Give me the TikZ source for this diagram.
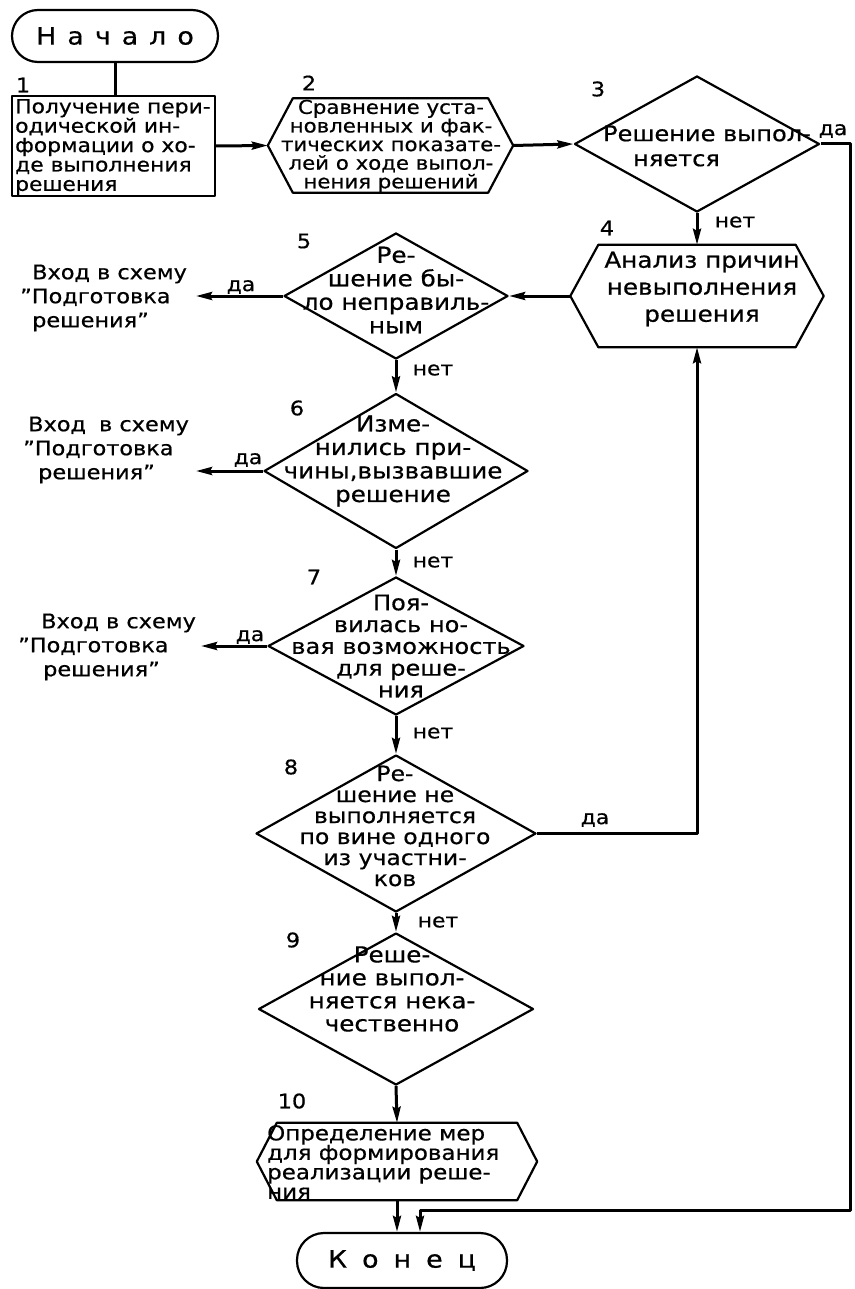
\documentclass[tikz,border=0pt]{standalone}
\usepackage{fontspec}
\setmainfont{DejaVu Sans}[FakeBold=0.6,FakeStretch=1.12]
\usetikzlibrary{arrows.meta,shapes.geometric}

% outline of a hexagonal block drawn round an invisible rectangle node
\newcommand\hexoutline[2]{%
  \draw[shp] ([xshift=#2]#1.north west) -- ([xshift=-#2]#1.north east) -- (#1.east)
    -- ([xshift=-#2]#1.south east) -- ([xshift=#2]#1.south west) -- (#1.west) -- cycle;}
\newcommand\fsz[2]{\fontsize{#1}{#2}\selectfont}

\begin{document}
\begin{tikzpicture}[x=1pt,y=-1pt,line join=round,
  shp/.style={draw,line width=2.2pt},
  conn/.style={line width=3pt},
  arr/.style={conn,-{Stealth[length=16pt,width=8pt,inset=2pt]}},
  dia/.style={shp,diamond,inner sep=0pt},
  hexbox/.style={rectangle,inner sep=0pt},
  term/.style={shp,rectangle,inner sep=0pt},
  txt/.style={inner sep=0pt,align=center},
  num/.style={inner sep=0pt,font=\fsz{20}{20}},
  yn/.style={inner sep=0pt,font=\fsz{19.5}{19.5}},
  entry/.style={inner sep=0pt,align=left,anchor=west,font=\fsz{20}{24}}]

\useasboundingbox (0,0) rectangle (854,1289);

% ---------- terminators ----------
\node[term,rounded corners=26pt,minimum width=206pt,minimum height=52pt] (start) at (115,36)
  {\fsz{24}{24}Н\hspace{11pt}а\hspace{11pt}ч\hspace{11pt}а\hspace{11pt}л\hspace{11pt}о};
\node[term,rounded corners=27pt,minimum width=210pt,minimum height=55pt] (end) at (402,1260.5)
  {\fsz{24}{24}К\hspace{15pt}о\hspace{15pt}н\hspace{15pt}е\hspace{15pt}ц};

% ---------- block 1 ----------
\node[shp,rectangle,inner sep=0pt,minimum width=203pt,minimum height=100pt] (b1) at (113.5,146) {};
\node[txt,align=left,anchor=west,font=\fsz{19.5}{19.4}] (t1) at (15,147)
  {Получение пери-\\одической ин-\\формации о хо-\\де выполнения\\решения};

% ---------- block 2 ----------
\node[hexbox,minimum width=245pt,minimum height=94pt] (h2) at (390.5,145.5) {};
\hexoutline{h2}{25pt}
\node[txt,font=\fsz{19}{18.6}] (t2) at (391,146)
  {Сравнение уста-\\новленных и фак-\\тических показате-\\лей о ходе выпол-\\нения решений};

% ---------- block 3 ----------
\node[dia,minimum width=245pt,minimum height=136pt] (d3) at (697,144) {};
\node[txt,align=left,font=\fsz{21.5}{25}] (t3) at (707,146)
  {Решение выпол-\\\hspace*{30pt}няется};

% ---------- block 4 ----------
\node[hexbox,minimum width=253pt,minimum height=102pt] (h4) at (697,296) {};
\hexoutline{h4}{28pt}
\node[txt,font=\fsz{22}{27}] (t4) at (702,289)
  {Анализ причин\\невыполнения\\решения};

% ---------- block 5 ----------
\node[dia,minimum width=224pt,minimum height=126pt] (d5) at (396,296) {};
\node[txt,font=\fsz{22}{23.5}] (t5) at (396,290)
  {Ре-\\шение бы-\\ло неправиль-\\ным};

% ---------- block 6 ----------
\node[dia,minimum width=264pt,minimum height=155pt] (d6) at (396,471) {};
\node[txt,font=\fsz{22}{23.5}] (t6) at (393,461)
  {Изме-\\нились при-\\чины,вызвавшие\\решение};

% ---------- block 7 ----------
\node[dia,minimum width=256pt,minimum height=138pt] (d7) at (396,646) {};
\node[txt,font=\fsz{21.5}{21.8}] (t7) at (401,646)
  {Поя-\\вилась но-\\вая возможность\\для реше-\\ния};

% ---------- block 8 ----------
\node[dia,minimum width=280pt,minimum height=157pt] (d8) at (396,833.5) {};
\node[txt,font=\fsz{21}{21}] (t8) at (395,826)
  {Ре-\\шение не\\выполняется\\по вине одного\\из участни-\\ков};

% ---------- block 9 ----------
\node[dia,minimum width=275pt,minimum height=152pt] (d9) at (396,1009) {};
\node[txt,font=\fsz{22}{23}] (t9) at (392,989)
  {Реше-\\ние выпол-\\няется нека-\\чественно};

% ---------- block 10 ----------
\node[hexbox,minimum width=280pt,minimum height=77pt] (h10) at (397,1161.5) {};
\hexoutline{h10}{20pt}
\node[txt,align=left,anchor=west,font=\fsz{20.5}{19.5}] (t10) at (267,1162)
  {Определение мер\\для формирования\\реализации реше-\\ния};

% ---------- exits to the other scheme ----------
\node[entry] (e5) at (20,298) {\hspace*{12pt}Вход в схему\\”Подготовка\\\hspace*{12pt}решения”};
\node[entry] (e6) at (23,450) {\hspace*{5pt}Вход\hspace{6pt} в схему\\”Подготовка\\\hspace*{15pt}решения”};
\node[entry] (e7) at (18,647) {\hspace*{23pt}Вход в схему\\”Подготовка\\\hspace*{25pt}решения”};
\coordinate (p5) at (196,296);
\coordinate (p6) at (196,471);
\coordinate (p7) at (201,646);

% ---------- block numbers ----------
\node[num] (n1) at (23,85) {1};
\node[num] (n2) at (309,83) {2};
\node[num] (n3) at (598,89) {3};
\node[num] (n4) at (607,228) {4};
\node[num] (n5) at (304,241) {5};
\node[num] (n6) at (297,408) {6};
\node[num] (n7) at (314,577) {7};
\node[num] (n8) at (291,767) {8};
\node[num] (n9) at (293,940) {9};
\node[num] (n10) at (292,1101) {10};

% ---------- connectors ----------
\draw[conn] (start.south) -- (start.south |- b1.north);
\draw[arr] (b1.east) -- (h2.west);
\draw[arr] (h2.east) -- (d3.west);
\draw[arr] (d3.south) -- (h4.north);
\draw[arr] (h4.west) -- (d5.east);
\draw[arr] (d5.west) -- (p5);
\draw[arr] (d5.south) -- (d6.north);
\draw[arr] (d6.west) -- (p6);
\draw[arr] (d6.south) -- (d7.north);
\draw[arr] (d7.west) -- (p7);
\draw[arr] (d7.south) -- (d8.north);
\draw[arr] (d8.east) -| (h4.south);
\draw[arr] (d8.south) -- (d9.north);
\draw[arr] (d9.south) -- (h10.north);
\draw[arr] (h10.south) -- (h10.south |- end.north);
\coordinate (rr) at (850,1210);
\coordinate (q) at (420,1210);
\draw[arr] (d3.east) -| (rr) -- (q) -- (q |- end.north);

% ---------- answer labels ----------
\node[yn] (y3) at (833,131) {да};
\node[yn] (y5) at (241,287) {да};
\node[yn] (y6) at (248,460) {да};
\node[yn] (y7) at (250,637) {да};
\node[yn] (y8) at (595,820) {да};
\node[yn] (m3) at (735,222) {нет};
\node[yn] (m5) at (433,370) {нет};
\node[yn] (m6) at (433,562) {нет};
\node[yn] (m7) at (433,733) {нет};
\node[yn] (m8) at (438,922) {нет};
\end{tikzpicture}
\end{document}
